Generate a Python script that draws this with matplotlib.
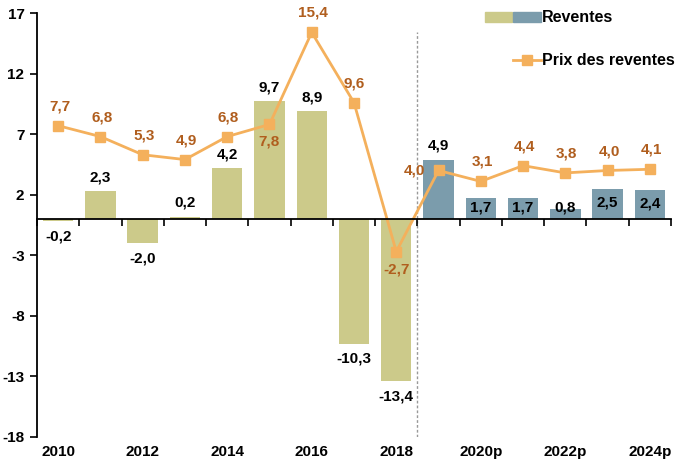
import matplotlib
matplotlib.use("Agg")
import matplotlib.pyplot as plt
from matplotlib.patches import Patch
from matplotlib.lines import Line2D
from matplotlib.legend_handler import HandlerTuple, HandlerLine2D

years = ["2010", "2011", "2012", "2013", "2014", "2015", "2016", "2017", "2018",
         "2019p", "2020p", "2021p", "2022p", "2023p", "2024p"]
tick_labels = ["2010", "", "2012", "", "2014", "", "2016", "", "2018",
               "", "2020p", "", "2022p", "", "2024p"]
reventes = [-0.2, 2.3, -2.0, 0.2, 4.2, 9.7, 8.9, -10.3, -13.4,
            4.9, 1.7, 1.7, 0.8, 2.5, 2.4]
prix = [7.7, 6.8, 5.3, 4.9, 6.8, 7.8, 15.4, 9.6, -2.7,
        4.0, 3.1, 4.4, 3.8, 4.0, 4.1]
n_hist = 9
yticks = [-18, -13, -8, -3, 2, 7, 12, 17]

OLIVE = "#CCCA8A"
BLUE = "#7B9CAC"
ORANGE = "#F4B05C"
BROWN = "#B05E1E"
plt.rcParams["font.family"] = ["Liberation Sans", "DejaVu Sans"]

fig = plt.figure(figsize=(6.77, 4.68), dpi=100)
ax = fig.add_axes([37/677, 31/468, (671-37)/677, (437-13)/468])

x = list(range(len(years)))
colors = [OLIVE if i < n_hist else BLUE for i in x]
ax.bar(x, reventes, width=0.72, color=colors, zorder=2)
ax.plot(x, prix, color=ORANGE, lw=2, marker="s", ms=7, zorder=3)

ax.set_xlim(-0.5, len(years) - 0.5)
ax.set_ylim(-18, 17)
ax.set_yticks(yticks)
ax.set_yticklabels([str(v) for v in yticks], fontsize=11, fontweight="bold")
ax.tick_params(axis="y", direction="out", length=5, width=1.2, pad=4)

# zero axis with tick marks between categories
ax.spines["bottom"].set_position(("data", 0))
ax.spines["bottom"].set_linewidth(1.3)
ax.spines["bottom"].set_zorder(5)
ax.set_xticks([i - 0.5 for i in range(len(years) + 1)])
ax.set_xticklabels([])
ax.tick_params(axis="x", direction="out", length=5, width=1.2)

# category labels at the bottom of the plot
sec = ax.secondary_xaxis(0)
sec.set_xticks(x)
sec.set_xticklabels(tick_labels, fontsize=11, fontweight="bold")
sec.tick_params(length=0, pad=6)
sec.spines["bottom"].set_visible(False)

for s in ["top", "right"]:
    ax.spines[s].set_visible(False)
ax.spines["left"].set_linewidth(1.3)

ax.axvline(n_hist - 0.5, ymin=0, ymax=0.955, color="#999999", lw=1, ls=(0, (2, 1.5)), zorder=1)

def fmt(v):
    return f"{v:.1f}".replace(".", ",")

# bar labels
inside = {10, 11, 12, 13, 14}
for i, v in enumerate(reventes):
    if i in inside:
        ax.annotate(fmt(v), (i, v / 2), xytext=(0, 1 if i != 12 else 5), textcoords="offset points",
                    ha="center", va="center", fontsize=11, fontweight="bold", color="black", zorder=6)
    elif v >= 0:
        ax.annotate(fmt(v), (i, v), xytext=(0, 10), textcoords="offset points",
                    ha="center", va="center", fontsize=11, fontweight="bold", color="black", zorder=6)
    else:
        ax.annotate(fmt(v), (i, v), xytext=(0, -11), textcoords="offset points",
                    ha="center", va="center", fontsize=11, fontweight="bold", color="black", zorder=6)

# line labels
offsets = {5: (0, -12), 8: (0, -13), 9: (-17, 0), 7: (0, 14)}
for i, v in enumerate(prix):
    dx, dy = offsets.get(i, (1, 14))
    ax.annotate(fmt(v), (i, v), xytext=(dx, dy), textcoords="offset points",
                ha="center", va="center", fontsize=11, fontweight="bold", color=BROWN, zorder=6)


class HandlerShortLine(HandlerLine2D):
    def create_artists(self, legend, orig_handle, xdescent, ydescent, width, height,
                       fontsize, trans):
        frac = 0.5
        return super().create_artists(legend, orig_handle, xdescent - width * (1 - frac),
                                      ydescent, width * frac, height, fontsize, trans)


h1 = (Patch(color=OLIVE), Patch(color=BLUE))
h2 = Line2D([], [], color=ORANGE, lw=2, marker="s", ms=7)
leg = ax.legend([h1, h2], ["Reventes", "Prix des reventes"],
                handler_map={tuple: HandlerTuple(ndivide=None, pad=0.08),
                             Line2D: HandlerShortLine(numpoints=1)},
                loc="upper right", bbox_to_anchor=(1.029, 1.04), frameon=False,
                prop={"weight": "bold", "size": 11.5}, labelspacing=1.75,
                handlelength=3.5, handletextpad=0.1, handleheight=0.6)

fig.savefig("out.png", dpi=100)
